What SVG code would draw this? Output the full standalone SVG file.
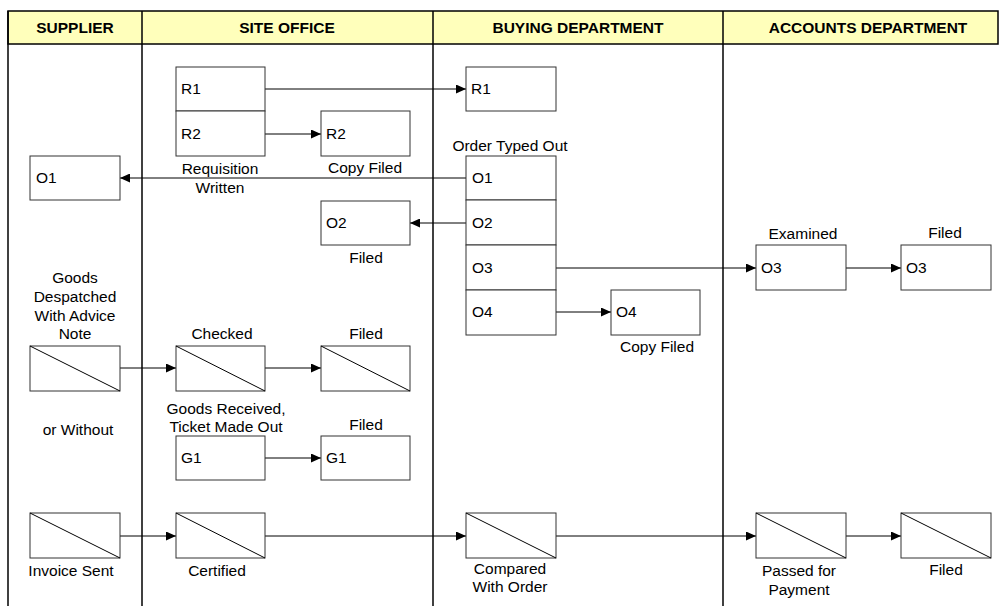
<svg xmlns="http://www.w3.org/2000/svg" width="999" height="606" viewBox="0 0 999 606">
<style>
text{font-family:"Liberation Sans",Arial,sans-serif;font-size:15.5px;fill:#000}
.h{font-weight:bold;text-anchor:middle}
.c{text-anchor:middle}
.box{fill:#fff;stroke:#333;stroke-width:1}
.diag{stroke:#000;stroke-width:1}
.lane{stroke:#000;stroke-width:1.5;fill:none}
.con{stroke:#000;stroke-width:1;fill:none;marker-end:url(#ah)}
</style>
<defs>
<marker id="ah" viewBox="0 0 10 9" refX="10" refY="4.5" markerWidth="10" markerHeight="9" markerUnits="userSpaceOnUse" orient="auto">
<path d="M0,0 L10,4.5 L0,9 Z" fill="#000"/>
</marker>
</defs>
<rect width="999" height="606" fill="#fff"/>
<g id="lanes">
<rect x="8" y="11" width="990" height="33" fill="#FFFFBB" stroke="#000" stroke-width="1.5"/>
<line class="lane" x1="8" y1="11" x2="8" y2="606"/>
<line class="lane" x1="142" y1="11" x2="142" y2="606"/>
<line class="lane" x1="433" y1="11" x2="433" y2="606"/>
<line class="lane" x1="723" y1="11" x2="723" y2="606"/>
<text class="h" x="75" y="33">SUPPLIER</text>
<text class="h" x="287" y="33">SITE OFFICE</text>
<text class="h" x="578" y="33">BUYING DEPARTMENT</text>
<text class="h" x="868" y="33">ACCOUNTS DEPARTMENT</text>
</g>
<g id="connectors">
<line class="con" x1="265" y1="89" x2="466" y2="89"/>
<line class="con" x1="265" y1="134" x2="321" y2="134"/>
<line class="con" x1="466" y1="178" x2="120" y2="178"/>
<line class="con" x1="466" y1="223" x2="410" y2="223"/>
<line class="con" x1="556" y1="268" x2="756" y2="268"/>
<line class="con" x1="846" y1="268" x2="901" y2="268"/>
<line class="con" x1="556" y1="312" x2="611" y2="312"/>
<line class="con" x1="120" y1="368" x2="176" y2="368"/>
<line class="con" x1="265" y1="368" x2="321" y2="368"/>
<line class="con" x1="265" y1="458" x2="321" y2="458"/>
<line class="con" x1="120" y1="536" x2="176" y2="536"/>
<line class="con" x1="265" y1="536" x2="466" y2="536"/>
<line class="con" x1="556" y1="536" x2="756" y2="536"/>
<line class="con" x1="846" y1="536" x2="901" y2="536"/>
</g>
<g id="req">
<rect class="box" x="176" y="67" width="89" height="44"/>
<rect class="box" x="176" y="111" width="89" height="45"/>
<text x="181" y="94">R1</text>
<text x="181" y="139">R2</text>
<text class="c" x="220" y="174">Requisition</text>
<text class="c" x="220" y="193">Written</text>
</g>
<g id="r2copy">
<rect class="box" x="321" y="111" width="89" height="45"/>
<text x="326" y="139">R2</text>
<text class="c" x="365" y="173">Copy Filed</text>
</g>
<g id="r1buy">
<rect class="box" x="466" y="67" width="90" height="44"/>
<text x="471" y="94">R1</text>
</g>
<g id="order">
<text class="c" x="510" y="151">Order Typed Out</text>
<rect class="box" x="466" y="156" width="90" height="44"/>
<rect class="box" x="466" y="200" width="90" height="45"/>
<rect class="box" x="466" y="245" width="90" height="45"/>
<rect class="box" x="466" y="290" width="90" height="45"/>
<text x="472" y="183">O1</text>
<text x="472" y="228">O2</text>
<text x="472" y="273">O3</text>
<text x="472" y="317">O4</text>
</g>
<g id="o1sup">
<rect class="box" x="30" y="156" width="90" height="44"/>
<text x="36" y="183">O1</text>
</g>
<g id="o2filed">
<rect class="box" x="321" y="201" width="89" height="44"/>
<text x="326" y="228">O2</text>
<text class="c" x="366" y="263">Filed</text>
</g>
<g id="o4copy">
<rect class="box" x="611" y="290" width="89" height="45"/>
<text x="616" y="317">O4</text>
<text class="c" x="657" y="352">Copy Filed</text>
</g>
<g id="o3exam">
<text class="c" x="803" y="239">Examined</text>
<rect class="box" x="756" y="245" width="90" height="45"/>
<text x="761" y="273">O3</text>
</g>
<g id="o3filed">
<text class="c" x="945" y="238">Filed</text>
<rect class="box" x="901" y="245" width="90" height="45"/>
<text x="906" y="273">O3</text>
</g>
<g id="goodsdesp">
<text class="c" x="75" y="283">Goods</text>
<text class="c" x="75" y="302">Despatched</text>
<text class="c" x="75" y="321">With Advice</text>
<text class="c" x="75" y="339">Note</text>
<rect class="box" x="30" y="346" width="90" height="45"/>
<line class="diag" x1="30" y1="346" x2="120" y2="391"/>
<text class="c" x="78" y="435">or Without</text>
</g>
<g id="checked">
<text class="c" x="222" y="339">Checked</text>
<rect class="box" x="176" y="346" width="89" height="45"/>
<line class="diag" x1="176" y1="346" x2="265" y2="391"/>
</g>
<g id="gfiled">
<text class="c" x="366" y="339">Filed</text>
<rect class="box" x="321" y="346" width="89" height="45"/>
<line class="diag" x1="321" y1="346" x2="410" y2="391"/>
</g>
<g id="g1">
<text class="c" x="226" y="414">Goods Received,</text>
<text class="c" x="226" y="432">Ticket Made Out</text>
<rect class="box" x="176" y="436" width="89" height="44"/>
<text x="181" y="463">G1</text>
</g>
<g id="g1filed">
<text class="c" x="366" y="430">Filed</text>
<rect class="box" x="321" y="436" width="89" height="44"/>
<text x="326" y="463">G1</text>
</g>
<g id="invoice">
<rect class="box" x="30" y="513" width="90" height="45"/>
<line class="diag" x1="30" y1="513" x2="120" y2="558"/>
<text class="c" x="71" y="576">Invoice Sent</text>
</g>
<g id="certified">
<rect class="box" x="176" y="513" width="89" height="45"/>
<line class="diag" x1="176" y1="513" x2="265" y2="558"/>
<text class="c" x="217" y="576">Certified</text>
</g>
<g id="compared">
<rect class="box" x="466" y="513" width="90" height="45"/>
<line class="diag" x1="466" y1="513" x2="556" y2="558"/>
<text class="c" x="510" y="574">Compared</text>
<text class="c" x="510" y="592">With Order</text>
</g>
<g id="passed">
<rect class="box" x="756" y="513" width="90" height="45"/>
<line class="diag" x1="756" y1="513" x2="846" y2="558"/>
<text class="c" x="799" y="576">Passed for</text>
<text class="c" x="799" y="595">Payment</text>
</g>
<g id="invfiled">
<rect class="box" x="901" y="513" width="90" height="45"/>
<line class="diag" x1="901" y1="513" x2="991" y2="558"/>
<text class="c" x="946" y="575">Filed</text>
</g>
</svg>
